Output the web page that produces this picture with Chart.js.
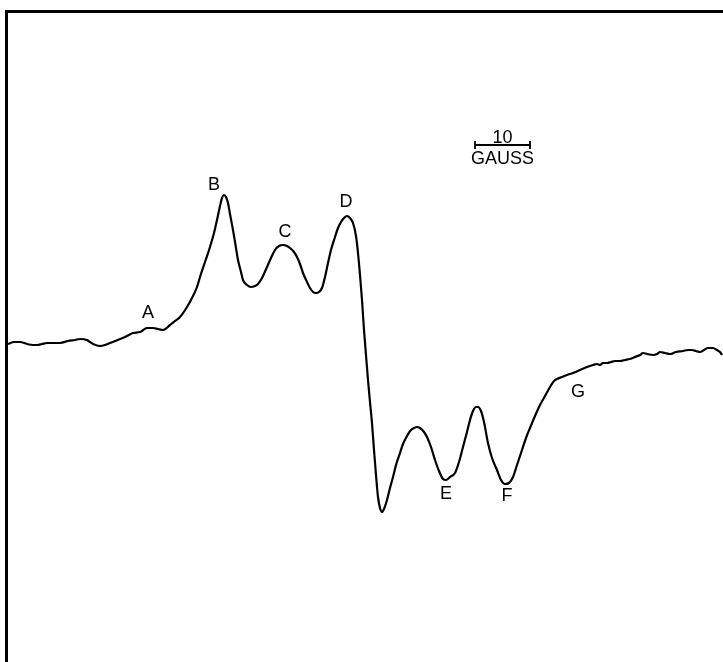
<!DOCTYPE html>
<html>
<head>
<meta charset="utf-8">
<script src="https://cdn.jsdelivr.net/npm/chart.js@4/dist/chart.umd.min.js"></script>
<style>
  html, body { margin: 0; padding: 0; background: #fff; }
  #wrap { width: 723px; height: 662px; position: relative; }
</style>
</head>
<body>
<div id="wrap"><canvas id="c"></canvas></div>
<script>
// Magnetic field position (arbitrary units; 55 units = 10 gauss)
const field = [8,14,20,27,33,37,42,47,55,60,68,75,80,87,90,93,100,105,110,120,127,133,140,147,153,158,163,170,175,180,187,192,197,200,205,210,214,217,220,222,224,226,228,230,233,236,238,241,243,247,251,255,258,262,267,271,275,279,283,287,290,294,297,300,303,307,310,313,316,319,322,325,328,331,335,338,341,344,347,350,353,356,358,360,362,364,366,368,370,372,374,376,378,380,382,384,387,390,393,396,400,403,407,411,414,417,420,424,427,431,435,439,443,446,450,455,459,463,467,470,473,476,478,481,484,488,492,497,501,505,509,513,517,522,526,530,535,540,545,550,554,557,562,567,573,580,587,593,597,600,603,607,611,615,620,625,630,635,640,643,647,653,657,660,665,670,676,683,688,692,696,700,704,708,713,717,720,722];
// First-derivative EPR signal (arbitrary units)
const signal = [1,3,3,1,0,0,1,2,2,2,4,5,6,5,3,1,-1,0,2,6,9,12,13,17,17,16,15,20,24,28,38,47,58,68,83,98,112,125,139,147,150,148,142,131,115,97,85,73,65,60,58,59,61,67,78,87,95,99,100,99,97,93,88,81,72,63,57,53,52,53,57,68,82,95,108,117,123,127,129,127,122,109,92,70,45,15,-10,-35,-57,-78,-105,-130,-152,-163,-167,-164,-155,-143,-132,-120,-108,-99,-91,-85,-83,-82,-83,-87,-92,-102,-115,-126,-134,-135,-132,-128,-117,-102,-87,-75,-66,-62,-62,-66,-77,-98,-113,-125,-135,-139,-138,-132,-120,-105,-93,-83,-71,-60,-51,-42,-36,-34,-32,-30,-28,-25,-22,-20,-19,-20,-18,-18,-17,-16,-16,-15,-14,-12,-10,-8,-9,-10,-9,-7,-8,-9,-7,-6,-5,-5,-6,-7,-5,-3,-3,-5,-7,-10];

// Feature labels
const peakNames = ["A","B","C","D","E","F","G"];
const peakField = [148,214,285,346,446,507,578];
const peakSignal = [32,160,113,143,-149,-151,-47];

// Scale bar
const barLabel = "10";
const barUnit = "GAUSS";
const barGauss = 10;
const unitsPerGauss = 5.5;
const barStart = 475;
const barSignal = 200;

const points = field.map((x, i) => ({ x: x, y: signal[i] }));

const decor = {
  id: 'decor',
  afterDraw(chart) {
    const ctx = chart.ctx;
    const xs = chart.scales.x, ys = chart.scales.y;
    ctx.save();
    // frame
    ctx.strokeStyle = '#000';
    ctx.lineWidth = 3;
    ctx.beginPath();
    ctx.moveTo(5, 11.5); ctx.lineTo(723, 11.5);
    ctx.moveTo(6.5, 10); ctx.lineTo(6.5, 662);
    ctx.stroke();
    // labels
    ctx.fillStyle = '#000';
    ctx.font = '18px "Liberation Sans", Arial, sans-serif';
    ctx.textAlign = 'center';
    ctx.textBaseline = 'middle';
    peakNames.forEach((n, i) => {
      ctx.fillText(n, xs.getPixelForValue(peakField[i]), ys.getPixelForValue(peakSignal[i]));
    });
    // scale bar
    const x0 = xs.getPixelForValue(barStart);
    const x1 = xs.getPixelForValue(barStart + barGauss * unitsPerGauss);
    const yb = ys.getPixelForValue(barSignal);
    ctx.lineWidth = 1.8;
    ctx.beginPath();
    ctx.moveTo(x0, yb); ctx.lineTo(x1, yb);
    ctx.moveTo(x0, yb - 4); ctx.lineTo(x0, yb + 4);
    ctx.moveTo(x1, yb - 4); ctx.lineTo(x1, yb + 4);
    ctx.stroke();
    const xm = (x0 + x1) / 2;
    ctx.textBaseline = 'alphabetic';
    ctx.fillText(barLabel, xm, yb - 2);
    ctx.textBaseline = 'top';
    ctx.fillText(barUnit, xm, yb + 5);
    ctx.restore();
  }
};

new Chart(document.getElementById('c'), {
  type: 'line',
  data: {
    datasets: [{
      data: points,
      borderColor: '#000',
      borderWidth: 2.2,
      pointRadius: 0,
      cubicInterpolationMode: 'monotone',
      fill: false,
      clip: false
    }]
  },
  options: {
    responsive: true,
    maintainAspectRatio: false,
    animation: false,
    layout: { padding: 0 },
    plugins: { legend: { display: false }, tooltip: { enabled: false } },
    scales: {
      x: { type: 'linear', min: 0, max: 723, display: false },
      y: { type: 'linear', min: -317, max: 345, display: false }
    }
  },
  plugins: [decor]
});
</script>
</body>
</html>
